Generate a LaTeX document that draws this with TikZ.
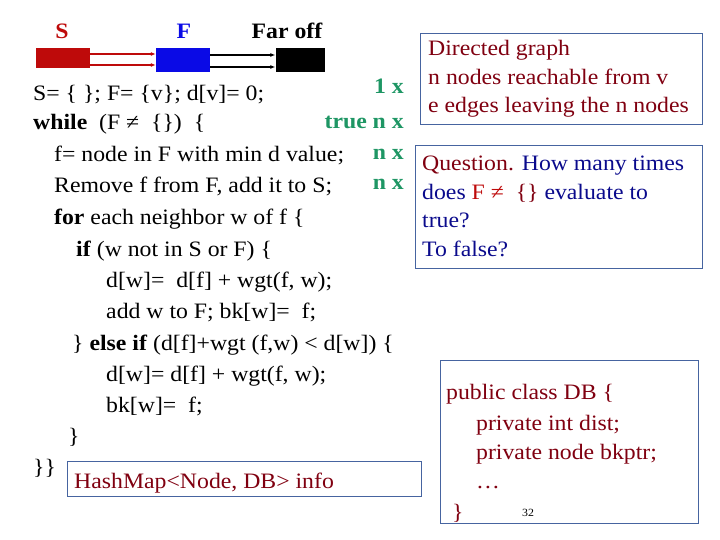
\documentclass[tikz,border=0pt]{standalone}
\usetikzlibrary{arrows.meta}
\usepackage{fontspec}
\setmainfont[FakeStretch=1.08]{Liberation Serif}
\definecolor{maroon}{RGB}{128,0,16}
\definecolor{grn}{RGB}{30,150,100}
\definecolor{navy}{RGB}{10,10,140}
\definecolor{sred}{RGB}{190,10,10}
\definecolor{fblue}{RGB}{10,10,230}
\definecolor{bord}{RGB}{70,100,160}
\begin{document}
\begin{tikzpicture}[x=1pt,y=-1pt,
  code/.style={anchor=base west,inner sep=0,font=\fontsize{22}{26}\selectfont},
  cnt/.style={anchor=base east,inner sep=0,text=grn,font=\fontsize{22}{26}\selectfont\bfseries},
  bx/.style={draw=bord,line width=0.8pt},
  txt/.style={anchor=base west,inner sep=0,font=\fontsize{22}{26}\selectfont},
  arr/.style={-{Latex[length=5pt,width=4pt]},line width=1.2pt}]
\useasboundingbox (0,0) rectangle (720,540);
% top boxes
\node[fill=sred,minimum width=54,minimum height=20,inner sep=0] (sb) at (63,58) {};
\node[fill=fblue,minimum width=54,minimum height=24,inner sep=0] (fb) at (183,60) {};
\node[fill=black,minimum width=49,minimum height=24,inner sep=0] (ob) at (300,60) {};
\node[text=sred,font=\fontsize{22}{26}\selectfont\bfseries] (sl) at (62,31) {S};
\node[text=fblue,font=\fontsize{22}{26}\selectfont\bfseries] (fl) at (184,31) {F};
\node[font=\fontsize{22}{26}\selectfont\bfseries] (ol) at (287,31) {Far off};
\draw[arr,draw=sred] (sb.east|-0,54) -- (fb.west|-0,54);
\draw[arr,draw=sred] (sb.east|-0,65) -- (fb.west|-0,65);
\draw[arr] (fb.east|-0,55) -- (ob.west|-0,55);
\draw[arr] (fb.east|-0,67) -- (ob.west|-0,67);
% code
\node[code] (c1) at (33,101) {S= \{ \}; F= \{v\}; d[v]= 0;};
\node[code] (c2) at (33,130) {\textbf{while} \ (F ≠ \ \{\}) \ \{};
\node[code] (c3) at (54,162) {f= node in F with min d value;};
\node[code] (c4) at (54,193) {Remove f from F, add it to S;};
\node[code] (c5) at (54,225) {\textbf{for} each neighbor w of f \{};
\node[code] (c6) at (76,256) {\textbf{if} (w not in S or F) \{};
\node[code] (c7) at (106,287) {d[w]= \ d[f] + wgt(f, w);};
\node[code] (c8) at (106,318) {add w to F; bk[w]= \ f;};
\node[code] (c9) at (72,350) {\} \textbf{else if} (d[f]+wgt (f,w) < d[w]) \{};
\node[code] (c10) at (106,381) {d[w]= d[f] + wgt(f, w);};
\node[code] (c11) at (106,412) {bk[w]= \ f;};
\node[code] (c12) at (68,443) {\}};
\node[code] (c13) at (33,474) {\}\}};
% counts
\node[cnt] (n1) at (404,94) {1 x};
\node[cnt] (n2) at (404,129) {true n x};
\node[cnt] (n3) at (404,160) {n x};
\node[cnt] (n4) at (404,190) {n x};
% right boxes
\draw[bx] (420,33) rectangle (702,124);
\node[txt,text=maroon] (d1) at (428,56) {Directed graph};
\node[txt,text=maroon] (d2) at (428,85) {n nodes reachable from v};
\node[txt,text=maroon] (d3) at (428,113) {e edges leaving the n nodes};
\draw[bx] (415,145) rectangle (702,268);
\node[txt,text=navy] (q1) at (422,171) {\textcolor{maroon}{Question.} How many times};
\node[txt,text=navy] (q2) at (422,200) {does \textcolor{sred}{F ≠} \ \textcolor{maroon}{\{\}} evaluate to};
\node[txt,text=navy] (q3) at (422,228) {true?};
\node[txt,text=navy] (q4) at (422,256) {To false?};
\draw[bx] (67,461) rectangle (421,496);
\node[txt,text=maroon] (h) at (74,488) {HashMap<Node, DB> info};
\draw[bx] (440,360) rectangle (698,523);
\node[txt,text=maroon] (p1) at (446,399) {public class DB \{};
\node[txt,text=maroon] (p2) at (476,430) {private int dist;};
\node[txt,text=maroon] (p3) at (476,459) {private node bkptr;};
\node[txt,text=maroon] (p4) at (476,488) {…};
\node[txt,text=maroon] (p5) at (452,519) {\}};
\node[anchor=base west,inner sep=0,font=\fontsize{11}{13}\selectfont] (pg) at (522,516) {32};
\end{tikzpicture}
\end{document}
